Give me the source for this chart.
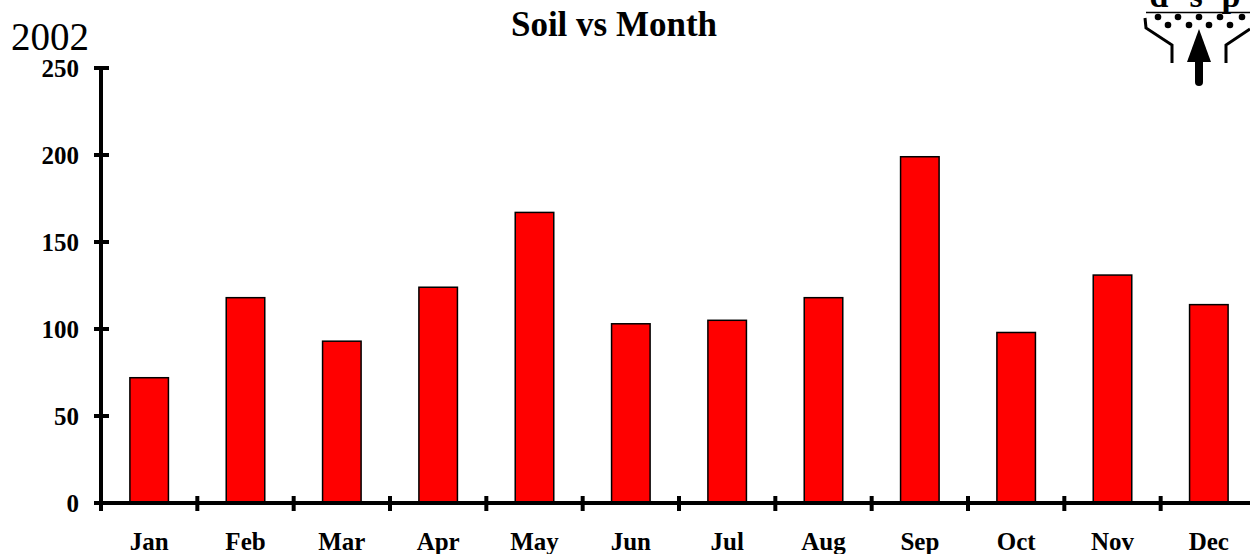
<!DOCTYPE html>
<html>
<head>
<meta charset="utf-8">
<script src="https://cdn.jsdelivr.net/npm/d3@7"></script>
<style>
  body { margin: 0; background: #fff; }
  text { font-family: "Liberation Serif", "Times New Roman", serif; }
</style>
</head>
<body>
<script>
const width = 1250;
const height = 554;

// data
const months = ["Jan", "Feb", "Mar", "Apr", "May", "Jun", "Jul", "Aug", "Sep", "Oct", "Nov", "Dec"];
const soil = [72, 118, 93, 124, 167, 103, 105, 118, 199, 98, 131, 114];
const yTicks = [0, 50, 100, 150, 200, 250];

let margin = { top: 68, right: -7, bottom: 51, left: 101 };

let svg = d3
  .select("body")
  .append("svg")
  .attr("width", width)
  .attr("height", height);

let x = d3
  .scaleBand()
  .domain(months)
  .range([margin.left, width - margin.right])
  .paddingInner(0)
  .paddingOuter(0);

let y = d3
  .scaleLinear()
  .domain([0, 250])
  .range([height - margin.bottom, margin.top]);

// bars
svg
  .selectAll("rect.bar")
  .data(months)
  .join("rect")
  .attr("class", "bar")
  .attr("x", (d) => x(d) + x.bandwidth() * 0.3)
  .attr("y", (d, i) => y(soil[i]))
  .attr("width", x.bandwidth() * 0.4)
  .attr("height", (d, i) => y(0) - y(soil[i]))
  .attr("fill", "#ff0000")
  .attr("stroke", "#000")
  .attr("stroke-width", 1.5);

// y axis
let yAxis = svg.append("g").attr("transform", `translate(${margin.left},0)`);
yAxis
  .append("line")
  .attr("y1", y(250) - 2)
  .attr("y2", y(0) + 2)
  .attr("stroke", "#000")
  .attr("stroke-width", 4);
yAxis
  .selectAll("line.tick")
  .data(yTicks)
  .join("line")
  .attr("class", "tick")
  .attr("x1", -7)
  .attr("x2", 8)
  .attr("y1", (d) => y(d))
  .attr("y2", (d) => y(d))
  .attr("stroke", "#000")
  .attr("stroke-width", 4);
yAxis
  .selectAll("text")
  .data(yTicks)
  .join("text")
  .attr("x", -22)
  .attr("y", (d) => y(d))
  .attr("dy", "0.35em")
  .attr("text-anchor", "end")
  .attr("font-size", 25)
  .attr("font-weight", "bold")
  .text((d) => d);

// x axis
let xAxis = svg.append("g").attr("transform", `translate(0,${y(0)})`);
xAxis
  .append("line")
  .attr("x1", margin.left - 2)
  .attr("x2", width)
  .attr("stroke", "#000")
  .attr("stroke-width", 4);
xAxis
  .selectAll("line.tick")
  .data(months)
  .join("line")
  .attr("class", "tick")
  .attr("x1", (d) => x(d))
  .attr("x2", (d) => x(d))
  .attr("y1", -7)
  .attr("y2", 8)
  .attr("stroke", "#000")
  .attr("stroke-width", 4);
xAxis
  .selectAll("text")
  .data(months)
  .join("text")
  .attr("x", (d) => x(d) + x.bandwidth() / 2)
  .attr("y", 47)
  .attr("text-anchor", "middle")
  .attr("font-size", 25)
  .attr("font-weight", "bold")
  .text((d) => d);

// title + year
svg
  .append("text")
  .attr("x", 614)
  .attr("y", 36)
  .attr("text-anchor", "middle")
  .attr("font-size", 35)
  .attr("font-weight", "bold")
  .text("Soil vs Month");

svg
  .append("text")
  .attr("x", 11)
  .attr("y", 50)
  .attr("font-size", 39)
  .text("2002");

// logo in the top right corner
let logo = svg.append("g");
logo
  .selectAll("text")
  .data([["d", 1159], ["s", 1196], ["p", 1231]])
  .join("text")
  .attr("x", (d) => d[1])
  .attr("y", 7)
  .attr("text-anchor", "middle")
  .attr("font-family", "DejaVu Sans")
  .attr("font-weight", "bold")
  .attr("font-size", 34)
  .text((d) => d[0]);
logo
  .append("line")
  .attr("x1", 1146)
  .attr("x2", 1250)
  .attr("y1", 12.5)
  .attr("y2", 12.5)
  .attr("stroke", "#000")
  .attr("stroke-width", 1.5);
logo
  .selectAll("circle.r1")
  .data([1158, 1178, 1199, 1220, 1242])
  .join("circle")
  .attr("class", "r1")
  .attr("cx", (d) => d)
  .attr("cy", 17)
  .attr("r", 3.3);
logo
  .selectAll("circle.r2")
  .data([1168, 1189, 1209, 1230])
  .join("circle")
  .attr("class", "r2")
  .attr("cx", (d) => d)
  .attr("cy", 25)
  .attr("r", 3.3);
logo
  .append("path")
  .attr("d", "M1145,18 L1146,28 L1172,45 L1172,63")
  .attr("fill", "none")
  .attr("stroke", "#000")
  .attr("stroke-width", 3);
logo
  .append("path")
  .attr("d", "M1226,63 L1226,45 L1250,29")
  .attr("fill", "none")
  .attr("stroke", "#000")
  .attr("stroke-width", 3);
logo
  .append("path")
  .attr("d", "M1199,29 L1211,62 L1187,62 Z")
  .attr("fill", "#000");
logo
  .append("line")
  .attr("x1", 1199)
  .attr("x2", 1199)
  .attr("y1", 60)
  .attr("y2", 82)
  .attr("stroke", "#000")
  .attr("stroke-width", 8)
  .attr("stroke-linecap", "round");
</script>
</body>
</html>
